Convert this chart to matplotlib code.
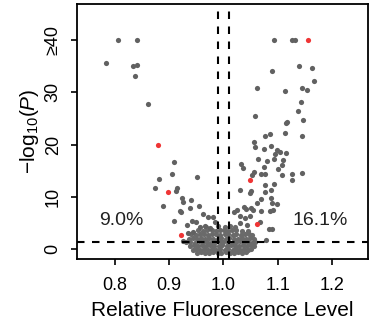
import matplotlib
matplotlib.use("Agg")
import matplotlib.pyplot as plt

plt.rcParams["font.family"] = ["Liberation Sans", "DejaVu Sans"]
plt.rcParams["mathtext.fontset"] = "custom"
plt.rcParams["mathtext.rm"] = "Liberation Sans"
plt.rcParams["mathtext.it"] = "Liberation Sans:italic"

# points, -log10(P) capped at 40
left_x = [0.806, 0.841, 0.783, 0.834, 0.841, 0.837, 0.861,
          0.909, 0.906, 0.951, 0.882, 0.874, 0.915, 0.912, 0.924, 0.941, 0.926,
          0.888, 0.920, 0.922, 0.939, 0.955, 0.963, 0.972, 0.981, 0.909, 0.942,
          0.949, 0.932, 0.957, 0.966, 0.975, 0.935, 0.944, 0.925, 0.984]
left_y = [40, 40, 35.7, 35.0, 35.3, 33.2, 27.8,
          16.6, 14.3, 13.8, 13.5, 11.7, 11.7, 11.1, 9.8, 9.4, 9.0,
          8.2, 7.3, 7.0, 7.8, 8.2, 6.8, 6.2, 6.2, 5.4, 5.4,
          5.2, 4.6, 4.3, 4.5, 4.0, 3.0, 3.3, 1.5, 5.2]

right_x = [1.0925, 1.127, 1.132,
           1.139, 1.164, 1.089, 1.166, 1.062, 1.114, 1.145, 1.154, 1.143, 1.138,
           1.059, 1.118, 1.116, 1.146, 1.076, 1.086, 1.114, 1.145, 1.057, 1.059,
           1.074, 1.088, 1.098, 1.104, 1.115, 1.095, 1.064, 1.0925, 1.080, 1.110,
           1.032, 1.036, 1.074, 1.100, 1.108, 1.056, 1.069, 1.077, 1.053, 1.108,
           1.126, 1.145, 1.126, 1.0925, 1.077, 1.030, 1.051, 1.049, 1.076, 1.087,
           1.070, 1.087, 1.062, 1.090, 1.099, 1.025, 1.019, 1.041, 1.051, 1.070,
           1.086, 1.030, 1.048, 1.068, 1.083, 1.090, 1.078, 1.040, 1.055, 1.092,
           1.030, 1.043, 1.038]
right_y = [40, 40, 40,
           35.0, 34.7, 34.0, 32.2, 30.8, 30.3, 30.9, 30.5, 28.1, 26.4,
           25.5, 24.4, 24.1, 24.7, 21.6, 22.1, 22.3, 21.6, 20.4, 19.5,
           19.2, 19.7, 18.9, 18.6, 18.4, 18.1, 17.2, 17.2, 16.9, 17.0,
           16.2, 15.5, 15.7, 15.3, 16.0, 14.8, 14.3, 14.4, 14.2, 14.1,
           14.4, 14.5, 13.2, 12.4, 12.2, 11.4, 11.2, 10.8, 10.9, 11.3,
           9.6, 9.8, 8.8, 8.8, 8.7, 7.5, 7.0, 7.6, 7.9, 7.3,
           7.3, 6.4, 6.3, 5.2, 3.8, 3.8, 1.8, 5.9, 7.5, 7.5,
           4.9, 4.6, 8.1]

# dense bulk of non-significant proteins near 1.0
base_x = [0.951, 0.958, 0.966, 0.973, 0.981, 0.989, 0.996, 1.004, 1.012, 1.019, 1.027, 1.034, 1.041,
          0.943, 0.950, 0.957, 0.964, 0.972, 0.979, 0.987, 0.994, 1.002, 1.009, 1.017, 1.024, 1.031, 1.038, 1.046, 1.051,
          0.938, 0.946, 0.953, 0.961, 0.968, 0.976, 0.983, 0.991, 0.998, 1.006, 1.013, 1.021, 1.028, 1.036, 1.043, 1.050, 1.056,
          0.931, 0.939, 0.947, 0.955, 0.962, 0.970, 0.977, 0.985, 0.993, 1.000, 1.008, 1.015, 1.023, 1.030, 1.038, 1.045, 1.053, 1.059,
          0.936, 0.944, 0.951, 0.959, 0.966, 0.974, 0.981, 0.989, 0.996, 1.004, 1.011, 1.019, 1.026, 1.034, 1.041, 1.049, 1.056,
          0.941, 0.949, 0.957, 0.964, 0.972, 0.979, 0.987, 0.994, 1.002, 1.009, 1.017, 1.024, 1.032, 1.039, 1.047, 1.053,
          0.953, 0.962, 0.970, 0.978, 0.986, 0.993, 1.001, 1.008, 1.016, 1.024, 1.035, 1.045,
          0.968, 0.990, 1.003, 1.012, 1.022]
base_y = [-0.7, -0.6, -0.8, -0.7, -0.5, -0.7, -0.8, -0.6, -0.7, -0.8, -0.6, -0.7, -0.6,
          -0.1, 0.0, -0.2, 0.1, -0.1, 0.0, -0.2, 0.1, -0.1, 0.0, -0.2, 0.1, -0.1, 0.0, -0.2, 0.0,
          0.6, 0.7, 0.5, 0.8, 0.6, 0.7, 0.5, 0.6, 0.8, 0.6, 0.7, 0.5, 0.6, 0.8, 0.6, 0.7, 0.5,
          1.3, 1.4, 1.2, 1.5, 1.3, 1.4, 1.2, 1.3, 1.5, 1.3, 1.4, 1.2, 1.3, 1.5, 1.3, 1.4, 1.2, 1.3,
          2.0, 2.1, 1.9, 2.2, 2.0, 2.1, 1.9, 2.0, 2.2, 2.0, 2.1, 1.9, 2.0, 2.2, 2.0, 2.1, 1.9,
          2.8, 2.7, 2.9, 2.8, 2.6, 2.8, 2.9, 2.7, 2.8, 2.9, 2.7, 2.8, 2.6, 2.8, 2.9, 2.7,
          3.6, 3.5, 3.7, 3.6, 3.4, 3.6, 3.7, 3.5, 3.6, 3.7, 3.5, 3.4,
          4.3, 4.4, 4.2, 4.4, 4.3]

red_x = [0.879, 0.898, 0.921, 1.155, 1.048, 1.061]
red_y = [19.9, 10.9, 2.7, 40, 13.2, 4.8]

pct_labels = ["9.0%", "16.1%"]
pct_x = [0.811, 1.178]
pct_y = [5.4, 5.4]

fc_cut = [0.99, 1.01]
p_cut = 1.3

y_ticks = [0, 10, 20, 30, 40]
y_labels = ["0", "10", "20", "30", "\u226540"]
x_ticks = [0.8, 0.9, 1.0, 1.1, 1.2]

fig = plt.figure(figsize=(3.69, 3.25), dpi=100)
ax = fig.add_axes([77 / 369, 1 - 259 / 325, 291 / 369, 255 / 325])

gray = "#616161"
ax.scatter(base_x, base_y, s=14, c="#6a6a6a", linewidths=0, zorder=2)
ax.scatter(left_x, left_y, s=14, c=gray, linewidths=0, zorder=2)
ax.scatter(right_x, right_y, s=14, c=gray, linewidths=0, zorder=2)
ax.scatter(red_x, red_y, s=14, c="#ef3535", linewidths=0, zorder=3)

for xc in fc_cut:
    ax.axvline(xc, color="black", lw=1.5, dashes=(3.6, 3.6), zorder=4)
ax.axhline(p_cut, color="black", lw=1.5, dashes=(3.6, 3.6), zorder=4)

for lab, tx, ty in zip(pct_labels, pct_x, pct_y):
    ax.text(tx, ty, lab, ha="center", va="center", fontsize=14, color="#222222")

ax.set_xlim(0.730, 1.2664)
ax.set_ylim(-1.9, 46.9)
ax.set_xticks(x_ticks, labels=[f"{v:.1f}" for v in x_ticks])
ax.set_yticks(y_ticks, labels=y_labels)
for lab in ax.get_yticklabels():
    lab.set_rotation(90)
    lab.set_va("center")
ax.tick_params(axis="both", labelsize=13, length=4, width=1.2, direction="out")
ax.tick_params(axis="x", pad=9)
ax.tick_params(axis="y", pad=7)
for sp in ax.spines.values():
    sp.set_linewidth(1.3)

ax.set_xlabel("Relative Fluorescence Level", fontsize=15, labelpad=5)
ax.set_ylabel(r"$\mathrm{-log}_{10}(\mathit{P})$", fontsize=15, labelpad=3)

fig.savefig("out.png", dpi=100)
